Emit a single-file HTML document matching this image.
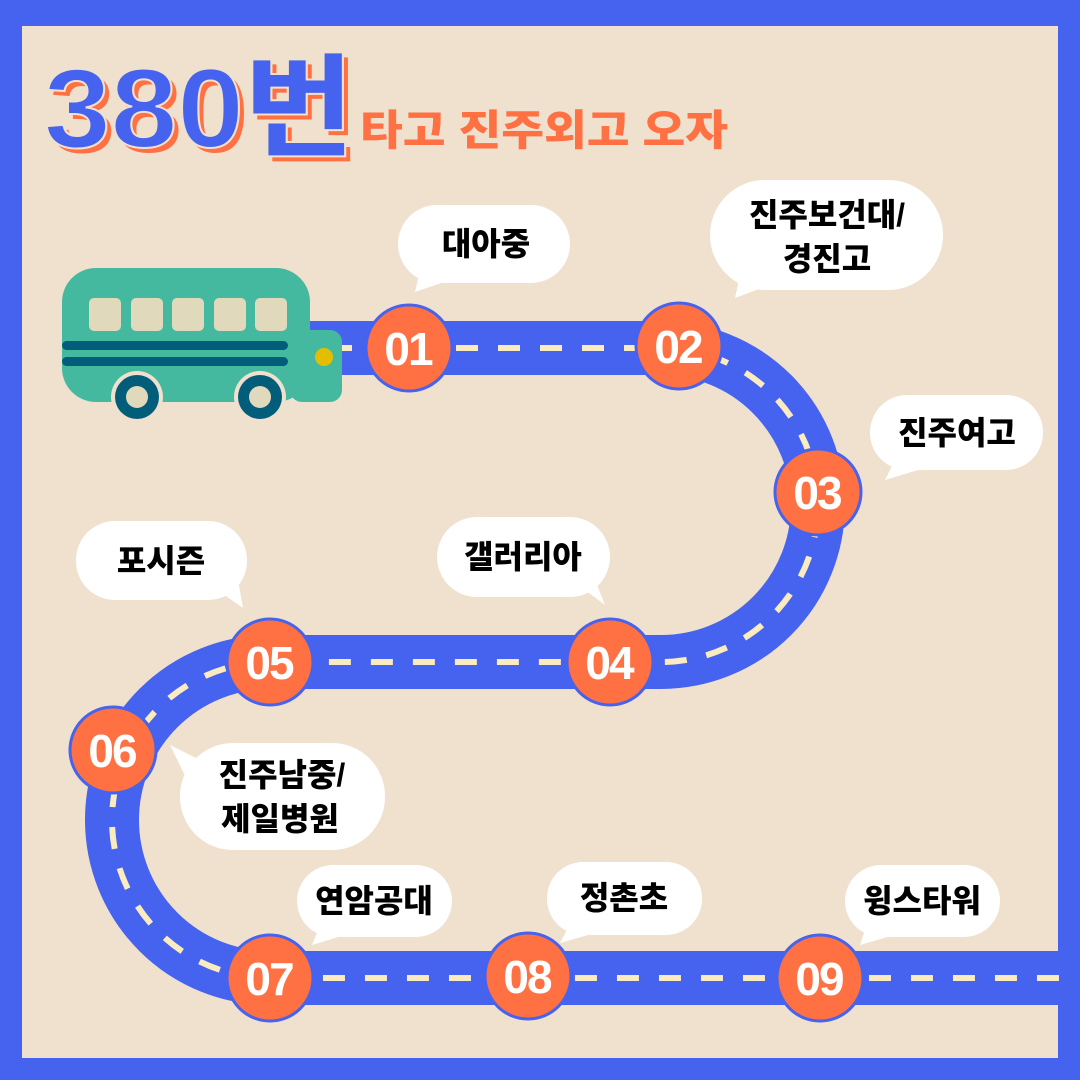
<!DOCTYPE html>
<html><head><meta charset="utf-8"><style>
html,body{margin:0;padding:0;}
body{width:1080px;height:1080px;overflow:hidden;}
text{font-family:"Liberation Sans","Noto Sans CJK KR",sans-serif;font-weight:900;}
</style></head><body>
<svg width="1080" height="1080" viewBox="0 0 1080 1080" xmlns="http://www.w3.org/2000/svg">
<rect width="1080" height="1080" fill="#4563EE"/>
<rect x="22" y="26" width="1036" height="1032" fill="#F0E0CE"/>
<!-- title -->
<text x="49" y="152" font-size="112" fill="#FF7043" textLength="310" lengthAdjust="spacingAndGlyphs">380번</text>
<text x="44" y="147" font-size="112" fill="#4563EE" stroke="#F0E0CE" stroke-width="2" textLength="310" lengthAdjust="spacingAndGlyphs">380번</text>
<text x="360" y="145" font-size="42" fill="#FF7043" textLength="368" lengthAdjust="spacingAndGlyphs">타고 진주외고 오자</text>
<!-- road -->
<path d="M300 348 H661 A157 157 0 0 1 661 662 H270 A158 158 0 0 0 270 978 H1060" fill="none" stroke="#4563EE" stroke-width="54"/>
<path d="M330 348 H661 A157 157 0 0 1 661 662 H270 A158 158 0 0 0 270 978 H1060" fill="none" stroke="#FBEBC0" stroke-width="6" stroke-dasharray="22 20"/>
<!-- bus -->
<rect x="62" y="268" width="248" height="134" rx="34" fill="#45B99F"/>
<rect x="290" y="330" width="52" height="72" rx="12" fill="#45B99F"/>
<g fill="#E0D9BB">
<rect x="89" y="298" width="32" height="33" rx="5"/><rect x="131" y="298" width="32" height="33" rx="5"/><rect x="172" y="298" width="32" height="33" rx="5"/><rect x="214" y="298" width="32" height="33" rx="5"/><rect x="255" y="298" width="32" height="33" rx="5"/>
</g>
<rect x="62" y="341" width="226" height="9" rx="4.5" fill="#025D7A"/>
<rect x="62" y="357" width="226" height="9" rx="4.5" fill="#025D7A"/>
<circle cx="324" cy="357" r="9" fill="#E3BE00"/>
<circle cx="137" cy="397" r="26" fill="#F0E0CE"/><circle cx="137" cy="397" r="22" fill="#025D7A"/><circle cx="137" cy="397" r="11" fill="#E0D9BB"/>
<circle cx="260" cy="397" r="26" fill="#F0E0CE"/><circle cx="260" cy="397" r="22" fill="#025D7A"/><circle cx="260" cy="397" r="11" fill="#E0D9BB"/>
<!-- stops -->
<g fill="#FF7043" stroke="#4563EE" stroke-width="3">
<circle cx="409" cy="348" r="43"/><circle cx="679" cy="346" r="43"/><circle cx="818" cy="492" r="43"/><circle cx="610" cy="662" r="43"/><circle cx="270" cy="662" r="43"/><circle cx="113" cy="750" r="43"/><circle cx="270" cy="978" r="43"/><circle cx="528" cy="976" r="43"/><circle cx="820" cy="978" r="43"/>
</g>
<g fill="#fff" font-size="46" text-anchor="middle" letter-spacing="-2">
<text x="408" y="365">01</text><text x="678" y="363">02</text><text x="817" y="509">03</text><text x="609" y="679">04</text><text x="269" y="679">05</text><text x="112" y="767">06</text><text x="269" y="995">07</text><text x="527" y="993">08</text><text x="819" y="995">09</text>
</g>
<!-- bubbles -->
<g fill="#fff">
<rect x="398" y="205" width="172" height="78" rx="39"/><path d="M420 270 L415 292 L450 280Z"/>
<rect x="710" y="180" width="233" height="110" rx="55"/><path d="M740 275 L735 298 L770 285Z"/>
<rect x="870" y="395" width="173" height="75" rx="37"/><path d="M895 460 L885 480 L925 468Z"/>
<rect x="437" y="517" width="173" height="80" rx="40"/><path d="M585 590 L605 605 L595 580Z"/>
<rect x="76" y="521" width="171" height="79" rx="39"/><path d="M220 592 L243 608 L238 580Z"/>
<rect x="180" y="743" width="205" height="107" rx="53"/><path d="M200 760 L170 745 L192 790Z"/>
<rect x="297" y="865" width="155" height="72" rx="36"/><path d="M318 930 L312 945 L345 935Z"/>
<rect x="547" y="862" width="155" height="73" rx="36"/><path d="M568 928 L560 943 L595 933Z"/>
<rect x="845" y="865" width="155" height="72" rx="36"/><path d="M865 930 L860 945 L895 935Z"/>
</g>
<g fill="#000" font-size="32" text-anchor="middle">
<text x="486" y="255">대아중</text>
<text x="827" y="226">진주보건대/</text><text x="827" y="270">경진고</text>
<text x="957" y="444">진주여고</text>
<text x="523" y="568">갤러리아</text>
<text x="161" y="572">포시즌</text>
<text x="282" y="786">진주남중/</text><text x="280" y="830">제일병원</text>
<text x="374" y="912">연암공대</text>
<text x="624" y="909">정촌초</text>
<text x="922" y="912">윙스타워</text>
</g>
</svg>
</body></html>
